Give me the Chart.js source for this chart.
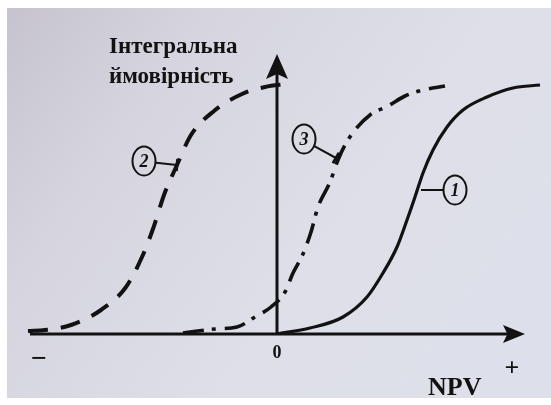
<!DOCTYPE html>
<html lang="uk">
<head>
<meta charset="utf-8">
<title>Інтегральна ймовірність NPV</title>
<script src="https://cdn.jsdelivr.net/npm/chart.js@4"></script>
<style>
  html, body { margin: 0; padding: 0; background: #ffffff; }
  canvas { display: block; }
</style>
</head>
<body>
<canvas id="chart" width="551" height="405"></canvas>
<script>
// Cumulative probability curves of NPV for three projects (x: NPV, y: probability)
const curve1X = [0, 1.32, 2.64, 3.6, 4.24, 4.8, 5.2, 5.52, 5.84, 6.24, 6.8, 7.44, 8.4, 9.44, 10.52];
const curve1Y = [0, 0.024, 0.068, 0.148, 0.244, 0.348, 0.456, 0.548, 0.644, 0.736, 0.828, 0.896, 0.948, 0.984, 0.996];

const curve2X = [-9.96, -9.28, -8.24, -7.04, -6.04, -5.4, -4.92, -4.52, -4.0, -3.44, -2.52, -1.4, -0.48, 0.4];
const curve2Y = [0.012, 0.016, 0.036, 0.096, 0.188, 0.308, 0.432, 0.556, 0.676, 0.796, 0.892, 0.96, 0.988, 1.0];

const curve3X = [-3.76, -2.48, -1.6, -0.88, -0.24, 0.32, 0.64, 1.04, 1.36, 1.64, 2.12, 2.44, 2.72, 3.12, 3.72, 4.44, 5.12, 5.84, 6.72];
const curve3Y = [0.004, 0.02, 0.028, 0.068, 0.108, 0.168, 0.244, 0.32, 0.408, 0.508, 0.608, 0.696, 0.756, 0.816, 0.876, 0.912, 0.952, 0.976, 0.992];

// Curve numbers and the point on each curve their leader line touches
const curveNames = ['1', '2', '3'];
const leaderX = [5.76, -4.0, 2.36];
const leaderY = [0.576, 0.676, 0.704];

// Axis texts
const axisTitleLines = ['Інтегральна', 'ймовірність'];
const xAxisTitle = 'NPV';
const originLabel = '0';
const minusLabel = '−';
const plusLabel = '+';

const toPoints = (xs, ys) => xs.map((x, i) => ({ x: x, y: ys[i] }));
const INK = '#121212';

// Paper background with a soft tone
const paperPlugin = {
  id: 'paper',
  beforeDraw(chart) {
    const c = chart.ctx;
    const w = chart.width, h = chart.height;
    c.save();
    c.fillStyle = '#ffffff';
    c.fillRect(0, 0, w, h);
    const g = c.createLinearGradient(7, 8, w, 398);
    g.addColorStop(0, 'rgb(198,195,207)');
    g.addColorStop(0.25, 'rgb(214,213,223)');
    g.addColorStop(0.6, 'rgb(222,223,232)');
    g.addColorStop(1, 'rgb(221,224,235)');
    c.fillStyle = g;
    c.fillRect(7, 8, w - 7, 398 - 8);
    c.restore();
  }
};

function arrowHead(c, tipX, tipY, dirX, dirY, len, half) {
  const px = -dirY, py = dirX;
  const bx = tipX - dirX * len, by = tipY - dirY * len;
  c.beginPath();
  c.moveTo(tipX, tipY);
  c.lineTo(bx + px * half, by + py * half);
  c.lineTo(tipX - dirX * len * 0.8, tipY - dirY * len * 0.8);
  c.lineTo(bx - px * half, by - py * half);
  c.closePath();
  c.fill();
}

// Axes with arrows, axis texts and circled curve numbers
const figurePlugin = {
  id: 'figure',
  afterDatasetsDraw(chart) {
    const c = chart.ctx;
    const xs = chart.scales.x, ys = chart.scales.y;
    const area = chart.chartArea;
    const x0 = xs.getPixelForValue(0);
    const y0 = ys.getPixelForValue(0);
    const xEnd = xs.getPixelForValue(9.92);
    const yTop = area.top;

    c.save();
    c.strokeStyle = INK;
    c.fillStyle = INK;
    c.lineCap = 'butt';

    // horizontal axis
    c.lineWidth = 3;
    c.beginPath();
    c.moveTo(area.left + 3, y0);
    c.lineTo(xEnd - 12, y0);
    c.stroke();
    arrowHead(c, xEnd, y0, 1, 0, 22, 9);

    // vertical axis
    c.beginPath();
    c.moveTo(x0, y0 + 1);
    c.lineTo(x0, yTop + 14);
    c.stroke();
    arrowHead(c, x0, yTop, 0, -1, 25, 11);

    // axis title
    c.textAlign = 'left';
    c.textBaseline = 'alphabetic';
    c.font = 'bold 23px "Liberation Serif", "DejaVu Serif", serif';
    c.fillText(axisTitleLines[0], x0 - 168, 53);
    c.fillText(axisTitleLines[1], x0 - 168, 83);

    c.font = 'bold 26px "Liberation Serif", "DejaVu Serif", serif';
    c.fillText(xAxisTitle, 428, 395);

    c.textAlign = 'center';
    c.font = 'bold 18px "Liberation Serif", "DejaVu Serif", serif';
    c.fillText(originLabel, x0, 358);
    c.font = 'bold 28px "Liberation Serif", "DejaVu Serif", serif';
    c.fillText(minusLabel, area.left + 12, 367);
    c.font = 'bold 26px "Liberation Serif", "DejaVu Serif", serif';
    c.fillText(plusLabel, 512, 376);

    // circled curve numbers with leader lines
    const offsets = [[34, 0], [-33, -4], [-32, -19]];
    curveNames.forEach((name, i) => {
      const px = xs.getPixelForValue(leaderX[i]);
      const py = ys.getPixelForValue(leaderY[i]);
      const cx = px + offsets[i][0];
      const cy = py + offsets[i][1];
      const dx = cx - px, dy = cy - py;
      const d = Math.hypot(dx, dy);
      const ux = dx / d, uy = dy / d;
      c.lineWidth = 2;
      // leader
      c.beginPath();
      c.moveTo(px, py);
      c.lineTo(cx - ux * 12, cy - uy * 14);
      c.stroke();
      // short cross tick where the leader meets dashed curves
      if (i > 0) {
        c.lineWidth = 3;
        c.beginPath();
        c.moveTo(px - uy * 6, py + ux * 6);
        c.lineTo(px + uy * 6, py - ux * 6);
        c.stroke();
      }
      c.lineWidth = 2;
      c.beginPath();
      c.ellipse(cx, cy, 11.5, 14.5, 0, 0, Math.PI * 2);
      c.stroke();
      c.font = 'italic bold 18px "Liberation Serif", "DejaVu Serif", serif';
      c.textAlign = 'center';
      c.textBaseline = 'middle';
      c.fillText(name, cx, cy + 1);
      c.textBaseline = 'alphabetic';
    });
    c.restore();
  }
};

const lineBase = {
  borderColor: INK,
  pointRadius: 0,
  fill: false,
  cubicInterpolationMode: 'monotone',
  borderCapStyle: 'butt',
  borderJoinStyle: 'round'
};

new Chart(document.getElementById('chart'), {
  type: 'line',
  data: {
    datasets: [
      Object.assign({ label: curveNames[0], data: toPoints(curve1X, curve1Y), borderWidth: 3.2 }, lineBase),
      Object.assign({ label: curveNames[1], data: toPoints(curve2X, curve2Y), borderWidth: 4, borderDash: [20, 13] }, lineBase),
      Object.assign({ label: curveNames[2], data: toPoints(curve3X, curve3Y), borderWidth: 3.6, borderDash: [21, 8, 4, 9] }, lineBase)
    ]
  },
  options: {
    responsive: false,
    animation: false,
    devicePixelRatio: 1,
    layout: { padding: { left: 27, right: 9, top: 54, bottom: 71 } },
    plugins: { legend: { display: false }, tooltip: { enabled: false } },
    scales: {
      x: { type: 'linear', min: -10, max: 10.6, display: false },
      y: { type: 'linear', min: 0, max: 1.12, display: false }
    }
  },
  plugins: [paperPlugin, figurePlugin]
});
</script>
</body>
</html>
